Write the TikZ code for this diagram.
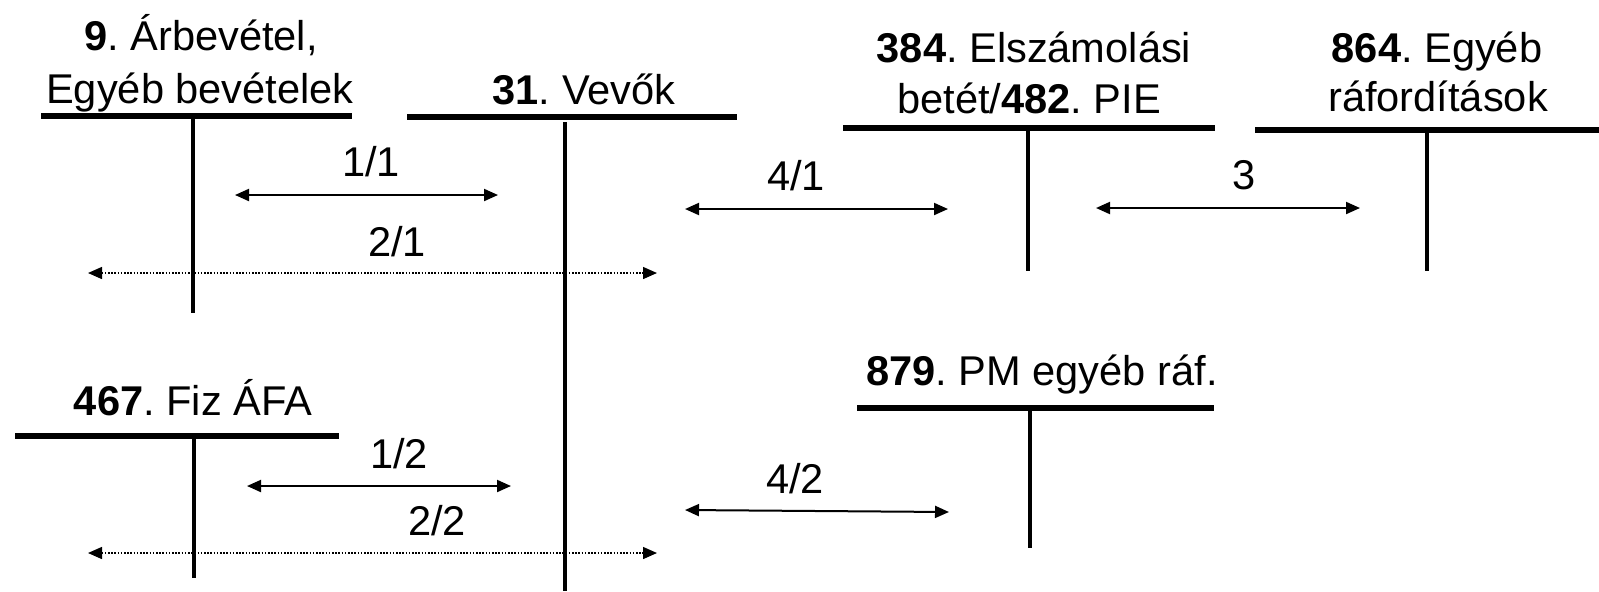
\documentclass[tikz,border=0pt]{standalone}
\usepackage{fontspec}
\setmainfont{Liberation Sans}
\usetikzlibrary{arrows.meta}
\frenchspacing
\begin{document}
\begin{tikzpicture}[x=0.5pt,y=-0.5pt,
  ttl/.style={anchor=base,inner sep=0pt,font=\fontsize{20.8}{25}\selectfont},
  lbl/.style={anchor=base,inner sep=0pt,font=\fontsize{20.8}{25}\selectfont},
  barline/.style={line width=2.6pt},
  stemline/.style={line width=1.9pt},
  arr/.style={line width=1pt,{Triangle[length=7pt,width=6pt]}-{Triangle[length=7pt,width=6pt]}},
  dotarr/.style={line width=0.7pt,dash pattern=on 0.8pt off 0.8pt,{Triangle[length=7pt,width=6pt]}-{Triangle[length=7pt,width=6pt]}}
]
\useasboundingbox (0,0) rectangle (1599,591);
\fill[white] (0,0) rectangle (1599,591);

% titles
\node[ttl] (t1a) at (201,50) {\textbf{9}. Árbevétel,};
\node[ttl] (t1b) at (200,103) {Egyéb bevételek};
\node[ttl] (t2)  at (584,104) {\textbf{31}. Vevők};
\node[ttl] (t3a) at (1034,62) {\textbf{384}. Elszámolási};
\node[ttl] (t3b) at (1029,113) {betét/\textbf{482}. PIE};
\node[ttl] (t4a) at (1437,62) {\textbf{864}. Egyéb};
\node[ttl] (t4b) at (1438,111) {ráfordítások};
\node[ttl] (t5)  at (193,415) {\textbf{467}. Fiz ÁFA};
\node[ttl] (t6)  at (1042,385) {\textbf{879}. PM egyéb ráf.};

% T-account bars
\coordinate (b1l) at (41,116);  \coordinate (b1r) at (352,116);
\coordinate (b2l) at (407,117); \coordinate (b2r) at (737,117);
\coordinate (b3l) at (843,128); \coordinate (b3r) at (1215,128);
\coordinate (b4l) at (1255,130);\coordinate (b4r) at (1599,130);
\coordinate (b5l) at (15,436);  \coordinate (b5r) at (339,436);
\coordinate (b6l) at (857,408); \coordinate (b6r) at (1214,408);
\draw[barline] (b1l) -- (b1r);
\draw[barline] (b2l) -- (b2r);
\draw[barline] (b3l) -- (b3r);
\draw[barline] (b4l) -- (b4r);
\draw[barline] (b5l) -- (b5r);
\draw[barline] (b6l) -- (b6r);

% stems
\coordinate (s1t) at (193,116);  \coordinate (s1b) at (193,313);
\coordinate (s2t) at (565,122);  \coordinate (s2b) at (565,591);
\coordinate (s3t) at (1028,128); \coordinate (s3b) at (1028,271);
\coordinate (s4t) at (1427,130); \coordinate (s4b) at (1427,271);
\coordinate (s5t) at (194,436);  \coordinate (s5b) at (194,578);
\coordinate (s6t) at (1030,408); \coordinate (s6b) at (1030,548);
\draw[stemline] (s1t) -- (s1b);
\draw[stemline] (s2t) -- (s2b);
\draw[stemline] (s3t) -- (s3b);
\draw[stemline] (s4t) -- (s4b);
\draw[stemline] (s5t) -- (s5b);
\draw[stemline] (s6t) -- (s6b);

% arrows
\coordinate (a11l) at (235,195); \coordinate (a11r) at (498,195);
\coordinate (a21l) at (88,273);  \coordinate (a21r) at (657,273);
\coordinate (a41l) at (685,209); \coordinate (a41r) at (948,209);
\coordinate (a3l)  at (1096,208);\coordinate (a3r)  at (1360,208);
\coordinate (a12l) at (247,486); \coordinate (a12r) at (511,486);
\coordinate (a22l) at (88,553);  \coordinate (a22r) at (657,553);
\coordinate (a42l) at (685,510); \coordinate (a42r) at (949,512);
\draw[arr] (a11l) -- (a11r);
\draw[dotarr] (a21l) -- (a21r);
\draw[arr] (a41l) -- (a41r);
\draw[arr] (a3l) -- (a3r);
\draw[arr] (a12l) -- (a12r);
\draw[dotarr] (a22l) -- (a22r);
\draw[arr] (a42l) -- (a42r);

% labels
\node[lbl] (l11) at (371,176) {1/1};
\node[lbl] (l21) at (397,256) {2/1};
\node[lbl] (l41) at (796,190) {4/1};
\node[lbl] (l3)  at (1244,189) {3};
\node[lbl] (l12) at (399,468) {1/2};
\node[lbl] (l22) at (437,535) {2/2};
\node[lbl] (l42) at (795,493) {4/2};
\end{tikzpicture}
\end{document}
